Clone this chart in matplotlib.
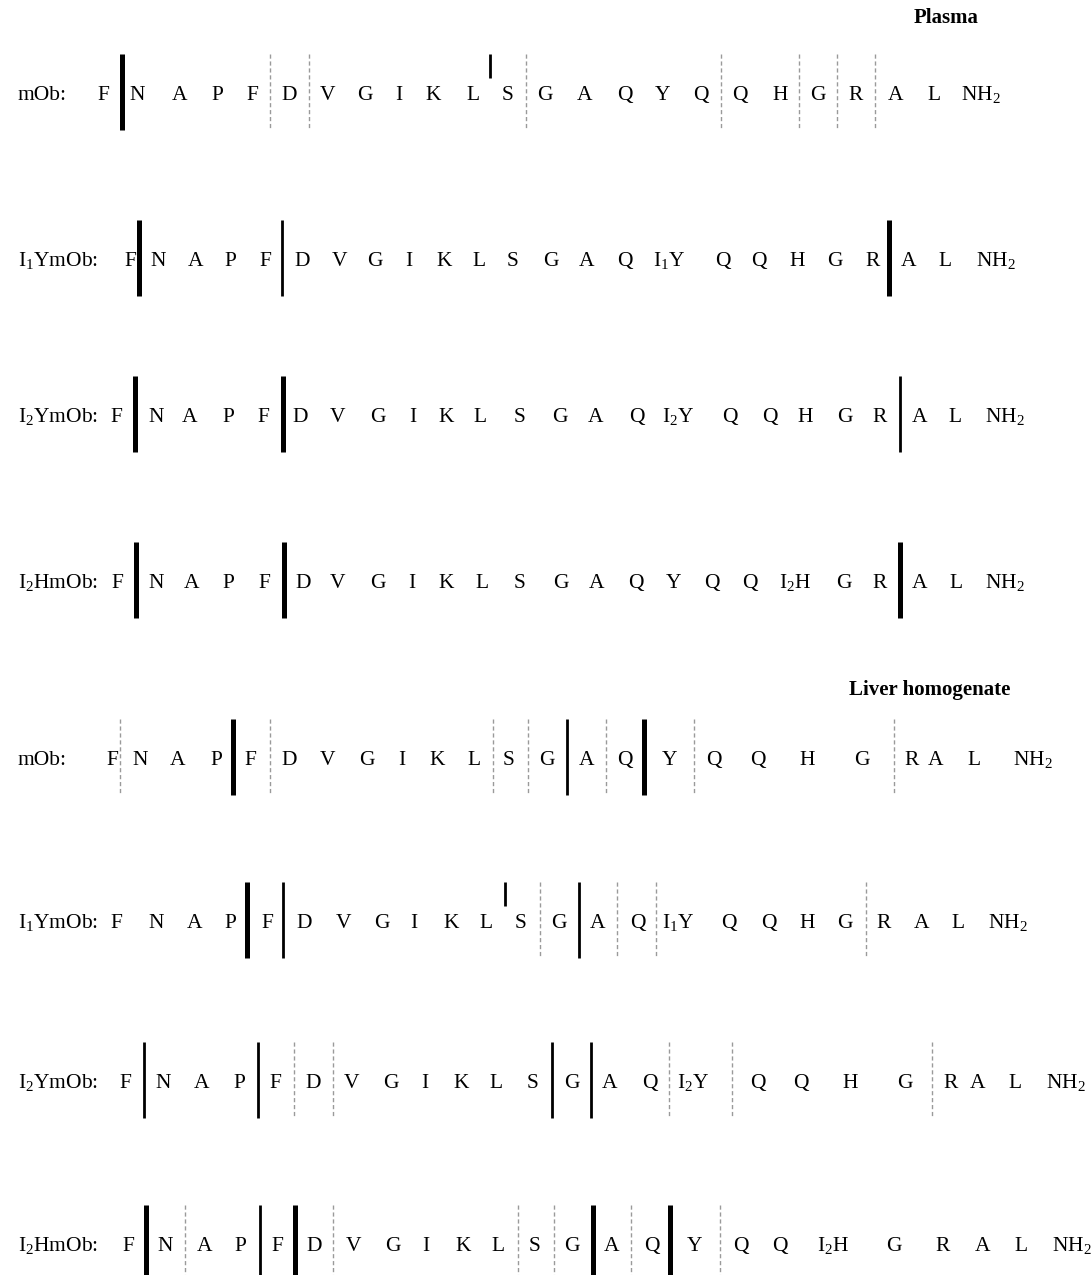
"""Cleavage sites of mOb and its iodinated analogues in plasma and liver homogenate."""
import matplotlib
matplotlib.use("Agg")
import matplotlib.pyplot as plt

plt.rcParams["font.family"] = "Liberation Serif"
plt.rcParams["mathtext.fontset"] = "custom"
plt.rcParams["mathtext.rm"] = "Liberation Serif"
plt.rcParams["mathtext.it"] = "Liberation Serif:italic"

# peptide sequence (C-terminal amide at the end)
SEQ = ["F", "N", "A", "P", "F", "D", "V", "G", "I", "K", "L", "S",
       "G", "A", "Q", "Y", "Q", "Q", "H", "G", "R", "A", "L", "NH$_2$"]

PEPTIDES = ["mOb", "I1YmOb", "I2YmOb", "I2HmOb"]
PEP_LABEL = {"mOb": "mOb:", "I1YmOb": "I$_1$YmOb:",
             "I2YmOb": "I$_2$YmOb:", "I2HmOb": "I$_2$HmOb:"}
# modified residue: index in SEQ -> label
PEP_MOD = {"mOb": {}, "I1YmOb": {15: "I$_1$Y"},
           "I2YmOb": {15: "I$_2$Y"}, "I2HmOb": {18: "I$_2$H"}}

# cleavage sites per matrix / peptide: (bond index k = between residue k and k+1, kind)
# kind: major = thick bar, minor = thin bar, trace = dashed, short = partial bar
CUTS_PLASMA = {
    "mOb": [(0, "major"), (4, "trace"), (5, "trace"), (10, "short"), (11, "trace"),
            (16, "trace"), (18, "trace"), (19, "trace"), (20, "trace")],
    "I1YmOb": [(0, "major"), (4, "minor"), (20, "major")],
    "I2YmOb": [(0, "major"), (4, "major"), (20, "minor")],
    "I2HmOb": [(0, "major"), (4, "major"), (20, "major")],
}
CUTS_LIVER = {
    "mOb": [(0, "trace"), (3, "major"), (4, "trace"), (10, "trace"), (11, "trace"),
            (12, "minor"), (13, "trace"), (14, "major"), (15, "trace"), (19, "trace")],
    "I1YmOb": [(3, "major"), (4, "minor"), (10, "short"), (11, "trace"),
               (12, "minor"), (13, "trace"), (14, "trace"), (19, "trace")],
    "I2YmOb": [(0, "minor"), (3, "minor"), (4, "trace"), (5, "trace"), (11, "minor"),
               (12, "minor"), (14, "trace"), (15, "trace"), (19, "trace")],
    "I2HmOb": [(0, "major"), (1, "trace"), (3, "minor"), (4, "major"), (5, "trace"),
               (10, "trace"), (11, "trace"), (12, "major"), (13, "trace"),
               (14, "major"), (15, "trace")],
}

# ---- layout (pixel coordinates) ----
W, H = 1091, 1275
ROW_Y = [92, 258, 414, 580, 757, 920, 1080, 1243]
RES_X = [
    [103, 137, 180, 217, 252, 289, 327, 365, 399, 433, 473, 508, 545, 585, 625, 663, 701, 740, 780, 818, 856, 896, 934, 981],
    [130, 158, 196, 230, 265, 302, 339, 375, 409, 444, 479, 513, 551, 587, 625, 669, 723, 759, 797, 835, 873, 909, 945, 996],
    [116, 156, 190, 228, 263, 300, 337, 378, 413, 446, 480, 520, 560, 596, 637, 678, 730, 770, 805, 845, 880, 920, 955, 1005],
    [117, 156, 192, 228, 264, 303, 338, 378, 412, 446, 482, 520, 561, 597, 636, 674, 712, 750, 795, 844, 880, 920, 956, 1005],
    [112, 140, 178, 216, 250, 289, 327, 367, 402, 437, 474, 509, 547, 587, 625, 670, 714, 758, 807, 862, 912, 936, 974, 1033],
    [116, 156, 195, 230, 267, 304, 344, 382, 414, 451, 486, 521, 559, 598, 638, 678, 729, 769, 807, 845, 884, 922, 958, 1008],
    [125, 163, 202, 239, 275, 313, 351, 391, 425, 461, 496, 533, 572, 610, 650, 693, 758, 801, 850, 905, 951, 978, 1015, 1066],
    [128, 165, 205, 240, 277, 314, 354, 393, 426, 463, 498, 535, 572, 612, 652, 695, 741, 780, 833, 894, 943, 983, 1021, 1072],
]
CUT_X = [
    [122, 270, 309, 490, 526, 721, 799, 837, 875],
    [139, 282, 889],
    [135, 283, 900],
    [136, 284, 900],
    [120, 233, 270, 493, 528, 567, 606, 644, 694, 894],
    [247, 283, 505, 540, 579, 617, 656, 866],
    [144, 258, 294, 333, 552, 591, 669, 732, 932],
    [146, 185, 260, 295, 333, 518, 554, 593, 631, 670, 720],
]
STYLE = {
    "major": dict(color="black", lw=3.6, ls="-"),
    "minor": dict(color="black", lw=2.0, ls="-"),
    "short": dict(color="black", lw=2.0, ls="-"),
    "trace": dict(color="#9a9a9a", lw=1.0, ls=(0, (3, 2))),
}
FS = 15.5

fig = plt.figure(figsize=(W / 100, H / 100), dpi=100)
ax = fig.add_axes([0, 0, 1, 1])
ax.set_xlim(0, W); ax.set_ylim(H, 0); ax.axis("off")

rows = [(p, CUTS_PLASMA[p]) for p in PEPTIDES] + [(p, CUTS_LIVER[p]) for p in PEPTIDES]
for r, (pep, cuts) in enumerate(rows):
    y = ROW_Y[r]
    base = y + 8
    ax.text(18, base, PEP_LABEL[pep], fontsize=FS, ha="left", va="baseline")
    for i, res in enumerate(SEQ):
        lab = PEP_MOD[pep].get(i, res)
        ax.text(RES_X[r][i], base, lab, fontsize=FS, ha="center", va="baseline")
    for (k, kind), cx in zip(cuts, CUT_X[r]):
        y0, y1 = y - 38, (y - 14 if kind == "short" else y + 38)
        ax.plot([cx, cx], [y0, y1], solid_capstyle="butt", **STYLE[kind])

ax.text(946, 18, "Plasma", fontsize=15, fontweight="bold", ha="center", va="center")
ax.text(930, 690, "Liver homogenate", fontsize=15, fontweight="bold", ha="center", va="center")

fig.savefig("out.png", dpi=100)
